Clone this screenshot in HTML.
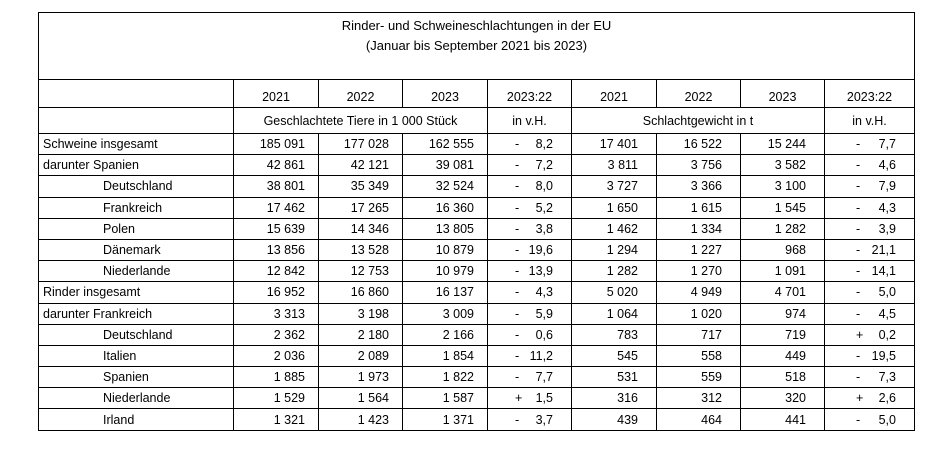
<!DOCTYPE html>
<html><head><meta charset="utf-8"><style>
body{margin:0;background:#fff;width:932px;height:456px;position:relative;font-family:"Liberation Sans",sans-serif;font-size:12.5px;color:#000}
table{position:absolute;left:38px;top:12px;border-collapse:collapse;table-layout:fixed}
td{border:1px solid #000;padding:0;white-space:nowrap;line-height:14px}
.t{height:63px;text-align:center;vertical-align:top;padding-top:3px;line-height:20px;font-size:13px}
.h td{height:24px;text-align:center;vertical-align:bottom;padding-bottom:3px}
.s td{height:25px;text-align:center}
.d td{height:20.2px;text-align:right;padding-right:13px}
.d td.l{text-align:left;padding-left:4px;padding-right:0}
.d td.i{text-align:left;padding-left:64px;padding-right:0}
.d td.r{padding-right:18px}
.d td.p{padding-right:18px;position:relative}
.p span{position:absolute;left:27px}
.q span{left:31px}
</style></head><body>
<table>
<colgroup><col style="width:195px"><col style="width:85px"><col style="width:84px"><col style="width:85px"><col style="width:84px"><col style="width:85px"><col style="width:84px"><col style="width:84px"><col style="width:90px"></colgroup>
<tr><td class="t" colspan="9">Rinder- und Schweineschlachtungen in der EU<br>(Januar bis September 2021 bis 2023)</td></tr>
<tr class="h"><td></td><td>2021</td><td>2022</td><td>2023</td><td>2023:22</td><td>2021</td><td>2022</td><td>2023</td><td>2023:22</td></tr>
<tr class="s"><td></td><td colspan="3">Geschlachtete Tiere in 1 000 Stück</td><td>in v.H.</td><td colspan="3">Schlachtgewicht in t</td><td>in v.H.</td></tr>
<tr class="d"><td class="l">Schweine insgesamt</td><td>185 091</td><td>177 028</td><td>162 555</td><td class="p"><span>-</span>8,2</td><td class="r">17 401</td><td class="r">16 522</td><td class="r">15 244</td><td class="p q"><span>-</span>7,7</td></tr>
<tr class="d"><td class="l">darunter Spanien</td><td>42 861</td><td>42 121</td><td>39 081</td><td class="p"><span>-</span>7,2</td><td class="r">3 811</td><td class="r">3 756</td><td class="r">3 582</td><td class="p q"><span>-</span>4,6</td></tr>
<tr class="d"><td class="i">Deutschland</td><td>38 801</td><td>35 349</td><td>32 524</td><td class="p"><span>-</span>8,0</td><td class="r">3 727</td><td class="r">3 366</td><td class="r">3 100</td><td class="p q"><span>-</span>7,9</td></tr>
<tr class="d"><td class="i">Frankreich</td><td>17 462</td><td>17 265</td><td>16 360</td><td class="p"><span>-</span>5,2</td><td class="r">1 650</td><td class="r">1 615</td><td class="r">1 545</td><td class="p q"><span>-</span>4,3</td></tr>
<tr class="d"><td class="i">Polen</td><td>15 639</td><td>14 346</td><td>13 805</td><td class="p"><span>-</span>3,8</td><td class="r">1 462</td><td class="r">1 334</td><td class="r">1 282</td><td class="p q"><span>-</span>3,9</td></tr>
<tr class="d"><td class="i">Dänemark</td><td>13 856</td><td>13 528</td><td>10 879</td><td class="p"><span>-</span>19,6</td><td class="r">1 294</td><td class="r">1 227</td><td class="r">968</td><td class="p q"><span>-</span>21,1</td></tr>
<tr class="d"><td class="i">Niederlande</td><td>12 842</td><td>12 753</td><td>10 979</td><td class="p"><span>-</span>13,9</td><td class="r">1 282</td><td class="r">1 270</td><td class="r">1 091</td><td class="p q"><span>-</span>14,1</td></tr>
<tr class="d"><td class="l">Rinder insgesamt</td><td>16 952</td><td>16 860</td><td>16 137</td><td class="p"><span>-</span>4,3</td><td class="r">5 020</td><td class="r">4 949</td><td class="r">4 701</td><td class="p q"><span>-</span>5,0</td></tr>
<tr class="d"><td class="l">darunter Frankreich</td><td>3 313</td><td>3 198</td><td>3 009</td><td class="p"><span>-</span>5,9</td><td class="r">1 064</td><td class="r">1 020</td><td class="r">974</td><td class="p q"><span>-</span>4,5</td></tr>
<tr class="d"><td class="i">Deutschland</td><td>2 362</td><td>2 180</td><td>2 166</td><td class="p"><span>-</span>0,6</td><td class="r">783</td><td class="r">717</td><td class="r">719</td><td class="p q"><span>+</span>0,2</td></tr>
<tr class="d"><td class="i">Italien</td><td>2 036</td><td>2 089</td><td>1 854</td><td class="p"><span>-</span>11,2</td><td class="r">545</td><td class="r">558</td><td class="r">449</td><td class="p q"><span>-</span>19,5</td></tr>
<tr class="d"><td class="i">Spanien</td><td>1 885</td><td>1 973</td><td>1 822</td><td class="p"><span>-</span>7,7</td><td class="r">531</td><td class="r">559</td><td class="r">518</td><td class="p q"><span>-</span>7,3</td></tr>
<tr class="d"><td class="i">Niederlande</td><td>1 529</td><td>1 564</td><td>1 587</td><td class="p"><span>+</span>1,5</td><td class="r">316</td><td class="r">312</td><td class="r">320</td><td class="p q"><span>+</span>2,6</td></tr>
<tr class="d"><td class="i">Irland</td><td>1 321</td><td>1 423</td><td>1 371</td><td class="p"><span>-</span>3,7</td><td class="r">439</td><td class="r">464</td><td class="r">441</td><td class="p q"><span>-</span>5,0</td></tr>
</table>
</body></html>
